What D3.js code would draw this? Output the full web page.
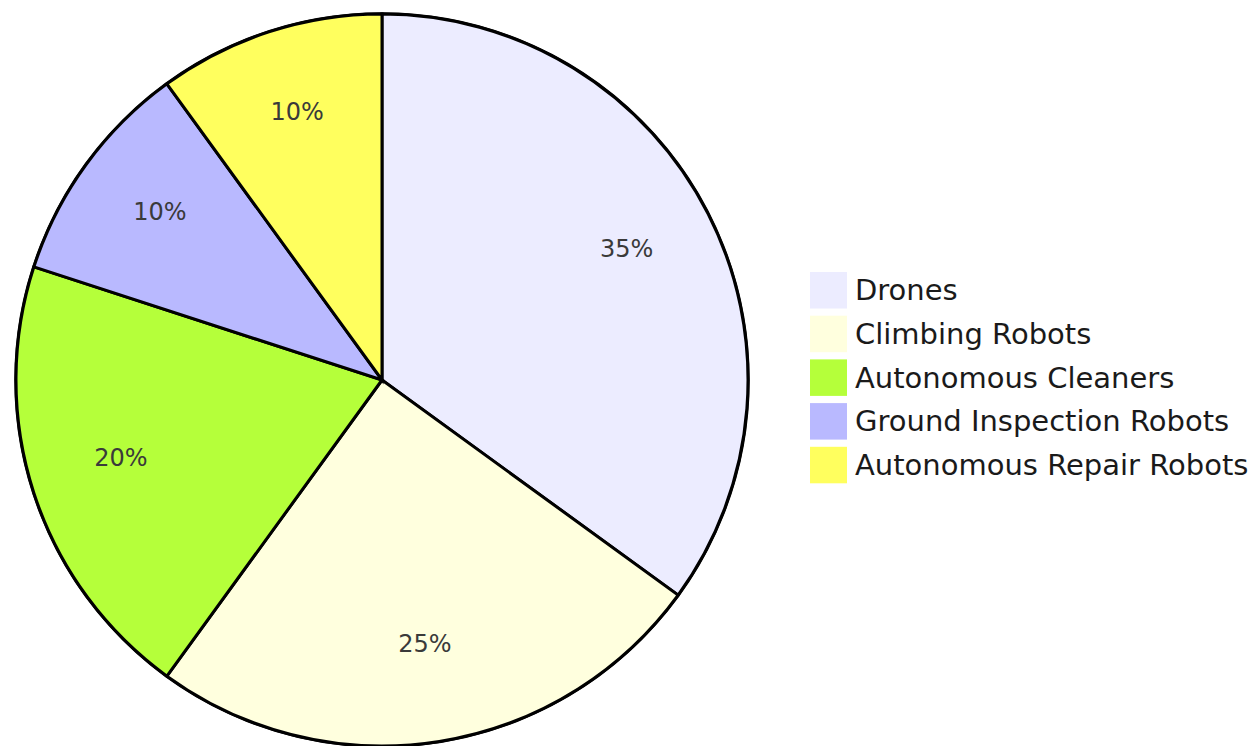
<!DOCTYPE html>
<html>
<head>
<meta charset="utf-8">
<script src="https://cdn.jsdelivr.net/npm/d3@7"></script>
<style>
  body { margin: 0; background: #fff; }
  svg { display: block; }
</style>
</head>
<body>
<div id="chart"></div>
<script>
// data
const categories = ["Drones", "Climbing Robots", "Autonomous Cleaners", "Ground Inspection Robots", "Autonomous Repair Robots"];
const values = [35, 25, 20, 10, 10];
const colors = ["#ececff", "#ffffde", "#b5ff3a", "#b9b9ff", "#ffff5e"];

function drawChart(container) {
    const width = 1256;
    const height = 746;
    const cx = 382, cy = 380;
    const radius = 366;

    const data = categories.map((c, i) => ({ label: c, value: values[i] }));
    const color = d3.scaleOrdinal(categories, colors);

    const pie = d3.pie().sort(null).value(d => d.value);
    const arc = d3.arc().innerRadius(0).outerRadius(radius);
    const labelArc = d3.arc().innerRadius(radius * 0.75).outerRadius(radius * 0.75);
    const total = d3.sum(values);

    const svg = d3.select(container).append("svg")
        .attr("width", width)
        .attr("height", height);

    const g = svg.append("g").attr("transform", `translate(${cx},${cy})`);

    g.append("circle")
        .attr("r", radius)
        .attr("fill", "none")
        .attr("stroke", "#000")
        .attr("stroke-width", 3.5);

    const arcs = pie(data);

    g.selectAll("path.slice")
        .data(arcs)
        .join("path")
        .attr("class", "slice")
        .attr("d", arc)
        .attr("fill", d => color(d.data.label))
        .attr("stroke", "#000")
        .attr("stroke-width", 3);

    g.selectAll("text.pct")
        .data(arcs)
        .join("text")
        .attr("class", "pct")
        .attr("transform", d => `translate(${labelArc.centroid(d)})`)
        .attr("text-anchor", "middle")
        .attr("dy", "0.05em")
        .attr("fill", "#3a3a3a")
        .style("font-family", "'DejaVu Sans', sans-serif")
        .style("font-size", "24px")
        .text(d => Math.round(d.data.value / total * 100) + "%");

    // legend
    const legend = svg.append("g")
        .selectAll("g")
        .data(categories)
        .join("g")
        .attr("transform", (d, i) => `translate(810,${272 + i * 43.7})`);

    legend.append("rect")
        .attr("width", 37)
        .attr("height", 36.5)
        .attr("fill", d => color(d));

    legend.append("text")
        .attr("x", 45)
        .attr("y", 18)
        .attr("dy", "0.35em")
        .attr("fill", "#1a1a1a")
        .style("font-family", "'DejaVu Sans', sans-serif")
        .style("font-size", "29px")
        .text(d => d);
}

drawChart("#chart");
</script>
</body>
</html>
